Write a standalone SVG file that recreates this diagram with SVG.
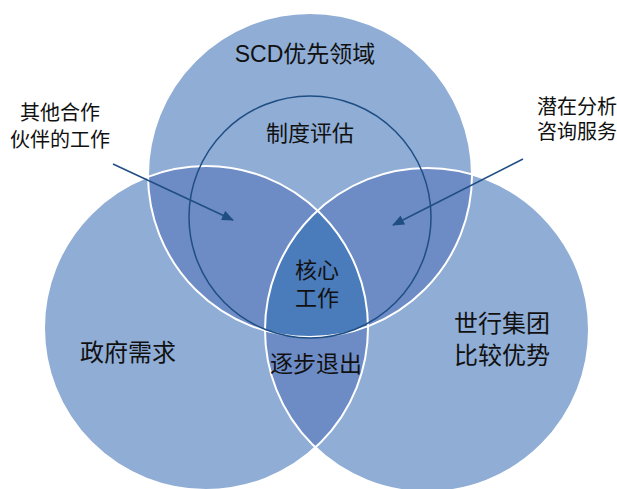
<svg xmlns="http://www.w3.org/2000/svg" width="617" height="489" viewBox="0 0 617 489">
  <style>
    .light { fill: #8FADD5; }
    .mid { fill: #6D8CC5; }
    .core { fill: #4A7BBB; }
    .edge { fill: none; stroke: #FFFFFF; stroke-width: 2; }
    .inner { fill: none; stroke: #1F4E84; stroke-width: 1.5; }
    .arrow { stroke: #1F4E84; stroke-width: 1.5; fill: none; }
    text { font-family: 'Liberation Sans', 'Noto Sans CJK SC', sans-serif; fill: #111111; text-anchor: middle; }
  </style>
  <defs>
    <clipPath id="clipTop"><circle cx="310" cy="175" r="162"/></clipPath>
    <clipPath id="clipLeft"><circle cx="206" cy="328" r="162"/></clipPath>
    <clipPath id="clipRight"><circle cx="427" cy="330" r="162"/></clipPath>
    <marker id="head" markerWidth="12" markerHeight="10" refX="11" refY="5" orient="auto" markerUnits="userSpaceOnUse">
      <path d="M0,0 L12,5 L0,10 z" fill="#1F4E84"/>
    </marker>
  </defs>

  <g id="circle-scd">
    <circle class="light" cx="310" cy="175" r="162"/>
  </g>
  <g id="circle-government">
    <circle class="light" cx="206" cy="328" r="162"/>
  </g>
  <g id="circle-worldbank">
    <circle class="light" cx="427" cy="330" r="162"/>
  </g>

  <g id="overlaps">
    <g clip-path="url(#clipTop)"><circle class="mid" cx="206" cy="328" r="162"/></g>
    <g clip-path="url(#clipTop)"><circle class="mid" cx="427" cy="330" r="162"/></g>
    <g clip-path="url(#clipLeft)"><circle class="mid" cx="427" cy="330" r="162"/></g>
    <g clip-path="url(#clipTop)"><g clip-path="url(#clipLeft)"><circle class="core" cx="427" cy="330" r="162"/></g></g>
  </g>

  <g id="circle-edges">
    <circle class="edge" cx="310" cy="175" r="162"/>
    <circle class="edge" cx="206" cy="328" r="162"/>
    <circle class="edge" cx="427" cy="330" r="162"/>
  </g>

  <g id="institutional-assessment">
    <circle class="inner" cx="310" cy="217" r="121"/>
  </g>

  <g id="connectors">
    <line class="arrow" x1="113" y1="164" x2="233" y2="220" marker-end="url(#head)"/>
    <line class="arrow" x1="523" y1="159" x2="393" y2="225" marker-end="url(#head)"/>
  </g>

  <g id="labels">
    <text x="305" y="62" font-size="23">SCD优先领域</text>
    <text x="310" y="141" font-size="22">制度评估</text>
    <text x="317" y="278" font-size="22">核心</text>
    <text x="317" y="306" font-size="22">工作</text>
    <text x="316" y="372" font-size="23">逐步退出</text>
    <text x="128" y="361" font-size="24">政府需求</text>
    <text x="502" y="332" font-size="24">世行集团</text>
    <text x="502" y="364" font-size="24">比较优势</text>
    <text x="60" y="120" font-size="20">其他合作</text>
    <text x="60" y="147" font-size="20">伙伴的工作</text>
    <text x="577" y="114" font-size="20">潜在分析</text>
    <text x="577" y="139" font-size="20">咨询服务</text>
  </g>
</svg>
